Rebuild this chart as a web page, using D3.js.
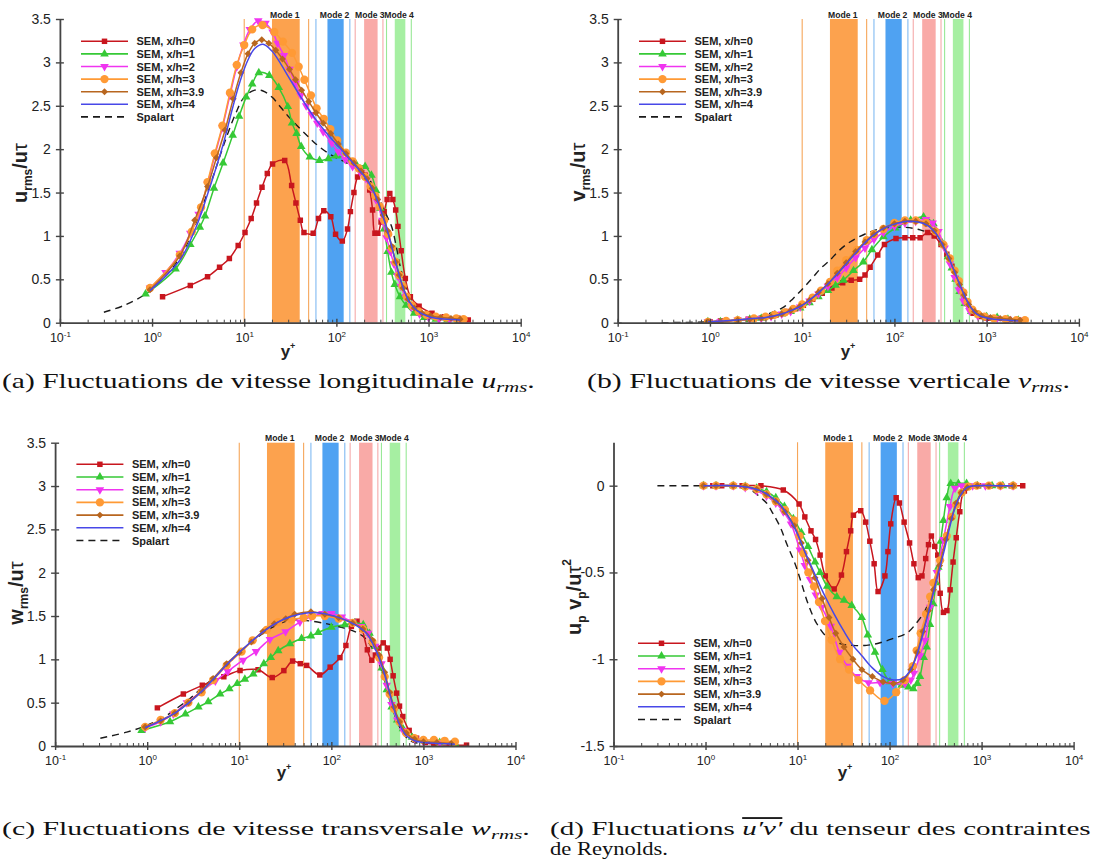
<!DOCTYPE html>
<html><head><meta charset="utf-8">
<script src="https://cdn.jsdelivr.net/npm/d3@7"></script>
<style>
body{margin:0;background:#fff;}
svg{display:block;font-family:"Liberation Sans",Arial,sans-serif;}
</style></head><body>
<svg id="fig" width="1094" height="860"></svg>
<script>
// ---------- shared categories ----------
const seriesLabels = ["SEM, x/h=0","SEM, x/h=1","SEM, x/h=2","SEM, x/h=3","SEM, x/h=3.9","SEM, x/h=4","Spalart"];
const modeNames = ["Mode 1","Mode 2","Mode 3","Mode 4"];
const modeBands = [[20,40],[80,120],[200,280],[430,560]];
const modeLines = [[10,50],[60,140],[160,320],[350,650]];
const xDecades = [0.1,1,10,100,1000,10000];
const xExponents = ["-1","0","1","2","3","4"];
const yTicksRms = [0,0.5,1,1.5,2,2.5,3,3.5];
const yTicksUV = [0,-0.5,-1,-1.5];

// ---------- (a) u_rms / u_tau : [y+, value] ----------
const uRms_xh0 = [[1.3,0.30],[2.6,0.43],[4.0,0.53],[5.4,0.64],[6.9,0.74],[8.6,0.89],[10.2,1.04],[11.9,1.20],[13.6,1.38],[15.6,1.56],[17.8,1.72],[20.3,1.83],[27.5,1.87],[32.7,1.58],[36.4,1.38],[40.6,1.18],[44.5,1.04],[56,1.03],[64,1.20],[73,1.29],[87,1.22],[98,1.02],[116,0.94],[132,1.08],[142,1.28],[155,1.50],[170,1.68],[188,1.73],[205,1.70],[230,1.53],[247,1.30],[262,1.03],[282,1.03],[305,1.16],[330,1.28],[355,1.42],[380,1.49],[410,1.42],[440,1.30],[466,1.11],[505,0.83],[560,0.51],[635,0.30],[790,0.19],[1090,0.11],[1480,0.07],[2080,0.05],[2700,0.03]];
const uRms_xh1 = [[0.85,0.33],[1.8,0.62],[2.6,0.90],[3.3,1.10],[3.75,1.23],[4.7,1.55],[5.9,1.84],[7.5,2.16],[8.8,2.38],[10.5,2.60],[12.2,2.75],[14.4,2.88],[18.7,2.85],[23.7,2.71],[29.7,2.49],[33,2.30],[37,2.18],[41.5,2.03],[51.5,1.91],[65.6,1.87],[82,1.89],[100,1.92],[130,1.88],[165,1.82],[205,1.80],[240,1.70],[270,1.52],[300,1.32],[330,1.08],[360,0.82],[395,0.58],[430,0.44],[490,0.30],[570,0.20],[700,0.11],[900,0.06],[1200,0.04],[1600,0.03],[2100,0.02]];
const uRms_xh2 = [[0.95,0.40],[1.4,0.58],[2.0,0.80],[2.6,1.03],[3.2,1.25],[4.0,1.60],[4.8,1.93],[5.8,2.25],[7.0,2.62],[8.3,2.95],[9.8,3.20],[11.5,3.38],[14.2,3.48],[17,3.45],[20.3,3.35],[23,3.22],[27,3.08],[31,2.92],[36,2.76],[41,2.62],[47,2.50],[54,2.40],[62,2.30],[72,2.20],[89,2.07],[105,1.97],[125,1.88],[150,1.80],[180,1.74],[210,1.66],[240,1.55],[275,1.40],[315,1.18],[350,0.98],[385,0.82],[420,0.68],[460,0.54],[500,0.42],[560,0.30],[650,0.18],[800,0.10],[1000,0.06],[1300,0.04],[1700,0.03],[2200,0.02]];
const uRms_xh3 = [[0.95,0.40],[2.0,0.78],[2.7,1.05],[3.4,1.33],[4.0,1.62],[4.8,1.95],[5.8,2.27],[7.0,2.65],[8.3,2.97],[10,3.20],[12.2,3.38],[15.8,3.43],[21.2,3.35],[26.3,3.24],[33,3.11],[39,2.95],[45,2.80],[53,2.62],[61,2.47],[73,2.35],[86,2.23],[102,2.10],[127,1.96],[150,1.86],[175,1.78],[205,1.68],[235,1.57],[265,1.46],[295,1.34],[330,1.18],[365,1.02],[400,0.86],[440,0.70],[480,0.55],[525,0.42],[580,0.30],[660,0.20],[780,0.13],[950,0.09],[1200,0.07],[1550,0.06],[2000,0.05],[2400,0.04]];
const uRms_xh39 = [[0.95,0.38],[2.0,0.77],[2.9,1.18],[4.0,1.57],[5.0,1.90],[6.2,2.22],[7.6,2.58],[9.2,2.88],[11,3.10],[13,3.22],[15.5,3.26],[18.5,3.22],[22,3.14],[26,3.04],[31,2.92],[36,2.80],[42,2.68],[50,2.55],[60,2.42],[72,2.30],[87,2.18],[105,2.06],[127,1.95],[155,1.84],[185,1.75],[215,1.66],[245,1.55],[280,1.42],[320,1.24],[360,1.06],[400,0.88],[440,0.70],[480,0.55],[530,0.40],[600,0.27],[700,0.17],[850,0.11],[1050,0.08],[1350,0.06],[1750,0.05],[2200,0.04]];
const uRms_xh4 = [[0.95,0.37],[2,0.72],[3,1.10],[4,1.48],[5,1.80],[6,2.08],[7.5,2.48],[9,2.78],[11,3.03],[13,3.16],[16,3.21],[20,3.13],[25,2.98],[30,2.84],[40,2.62],[50,2.46],[60,2.34],[75,2.21],[90,2.11],[110,2.01],[140,1.88],[170,1.78],[200,1.69],[240,1.56],[280,1.40],[330,1.18],[380,0.96],[430,0.74],[480,0.55],[540,0.38],[620,0.24],[750,0.14],[950,0.08],[1200,0.05],[1600,0.04],[2200,0.03]];
const uRms_spalart = [[0.3,0.12],[0.5,0.20],[0.85,0.33],[1.3,0.50],[2,0.75],[3,1.15],[4,1.50],[5,1.80],[6,2.05],[8,2.40],[10,2.60],[13,2.68],[16,2.67],[20,2.60],[25,2.48],[30,2.38],[40,2.24],[50,2.14],[60,2.06],[80,1.96],[100,1.90],[130,1.84],[170,1.77],[210,1.70],[250,1.58],[300,1.40],[350,1.24],[400,1.10],[450,0.86],[500,0.62],[600,0.35],[700,0.22],[850,0.12],[1000,0.08]];

// ---------- (b) v_rms / u_tau ----------
const vRms_xh0 = [[1.0,0.01],[1.3,0.02],[2.0,0.03],[2.6,0.04],[4.0,0.07],[5.2,0.09],[6.8,0.13],[8.5,0.16],[10.3,0.20],[13,0.27],[16.5,0.34],[21,0.40],[27.5,0.46],[34,0.49],[42,0.50],[48,0.55],[54.5,0.64],[66,0.78],[78,0.90],[104,0.97],[130,0.98],[158,0.98],[190,0.98],[230,1.04],[270,1.00],[320,0.90],[370,0.79],[420,0.65],[470,0.50],[522,0.38],[600,0.22],[712,0.11],[850,0.07],[1010,0.05],[1640,0.02],[2500,0.01]];
const vRms_xh1 = [[0.95,0.01],[1.3,0.01],[2,0.03],[2.7,0.04],[3.6,0.05],[4.6,0.07],[6,0.10],[7.5,0.13],[9.5,0.17],[12,0.23],[15,0.30],[19,0.37],[23,0.43],[28,0.49],[36,0.60],[46,0.70],[57,0.84],[76,0.99],[102,1.09],[150,1.18],[207,1.22],[265,1.14],[330,0.92],[380,0.76],[419,0.63],[460,0.50],[510,0.36],[580,0.22],[680,0.13],[820,0.09],[1000,0.07],[1300,0.06],[1700,0.04],[2200,0.03]];
const vRms_xh2 = [[0.95,0.01],[1.3,0.01],[2,0.03],[2.7,0.04],[3.6,0.05],[4.6,0.07],[6,0.10],[7.5,0.13],[9.5,0.18],[12,0.25],[15,0.33],[19,0.42],[24,0.52],[30,0.63],[38,0.75],[48,0.86],[60,0.96],[76,1.04],[100,1.11],[130,1.15],[170,1.17],[220,1.19],[260,1.15],[300,1.05],[350,0.86],[400,0.68],[450,0.52],[500,0.38],[560,0.25],[650,0.14],[800,0.08],[1000,0.06],[1300,0.05],[1700,0.04],[2200,0.03]];
const vRms_xh3 = [[0.95,0.01],[1.5,0.02],[2,0.03],[3,0.05],[4,0.07],[5,0.09],[6.5,0.12],[8,0.16],[10,0.21],[13,0.29],[16,0.37],[20,0.47],[24,0.60],[30,0.72],[39,0.84],[50,0.95],[60,1.02],[76,1.08],[100,1.15],[130,1.18],[170,1.18],[220,1.15],[280,1.05],[340,0.90],[400,0.74],[450,0.60],[500,0.48],[560,0.35],[620,0.24],[700,0.15],[800,0.10],[950,0.07],[1200,0.05],[1600,0.04],[2100,0.03],[2600,0.03]];
const vRms_xh39 = [[0.95,0.01],[1.3,0.01],[2,0.03],[2.7,0.04],[3.6,0.05],[4.6,0.07],[6,0.10],[7.5,0.14],[9.5,0.19],[12,0.26],[15,0.35],[19,0.45],[24,0.57],[30,0.69],[38,0.82],[48,0.93],[60,1.02],[76,1.09],[100,1.14],[130,1.17],[170,1.17],[220,1.14],[270,1.06],[330,0.90],[390,0.74],[450,0.58],[510,0.44],[570,0.32],[640,0.21],[740,0.13],[880,0.08],[1100,0.06],[1400,0.05],[1800,0.04],[2300,0.03]];
const vRms_xh4 = [[0.95,0.01],[2,0.03],[3,0.05],[4,0.06],[6,0.10],[8,0.15],[10,0.20],[13,0.29],[16,0.37],[20,0.47],[25,0.58],[32,0.71],[40,0.83],[50,0.94],[65,1.04],[85,1.11],[110,1.15],[140,1.17],[180,1.16],[230,1.12],[280,1.03],[340,0.88],[400,0.72],[460,0.56],[520,0.42],[590,0.29],[670,0.18],[780,0.10],[950,0.06],[1200,0.04],[1600,0.03],[2200,0.02]];
const vRms_spalart = [[0.3,0.0],[1,0.01],[2,0.03],[3,0.06],[4,0.09],[5,0.13],[6.3,0.18],[8,0.28],[10.3,0.40],[13,0.52],[16,0.63],[20,0.72],[25,0.83],[33,0.93],[50,1.03],[76,1.09],[126,1.10],[190,1.07],[250,1.02],[300,0.95],[350,0.85],[400,0.72],[450,0.58],[500,0.45],[560,0.32],[650,0.18],[750,0.10],[900,0.05],[1000,0.04]];

// ---------- (c) w_rms / u_tau ----------
const wRms_xh0 = [[1.29,0.44],[2.47,0.60],[3.97,0.70],[6.8,0.80],[10.2,0.87],[16,0.88],[22.8,0.79],[30.5,0.87],[38,0.98],[46,0.95],[54,0.93],[75,0.82],[97,0.91],[124,1.02],[144,1.16],[165,1.38],[190,1.44],[215,1.35],[246,1.11],[275,0.99],[300,1.05],[327,1.13],[366,1.19],[406,1.13],[435,1.00],[469,0.81],[512,0.61],[550,0.46],[597,0.34],[700,0.18],[843,0.09],[1050,0.04],[1297,0.02],[1910,0.01],[2940,0.01]];
const wRms_xh1 = [[0.87,0.18],[1.77,0.28],[2.6,0.37],[3.6,0.45],[4.6,0.51],[6.2,0.60],[7.8,0.66],[9.5,0.72],[11.5,0.77],[14.2,0.83],[18.5,0.95],[22,1.02],[26.5,1.10],[35.5,1.18],[47.5,1.24],[60,1.27],[72,1.31],[100,1.37],[140,1.40],[180,1.42],[222,1.40],[260,1.30],[298,1.15],[352,0.90],[400,0.65],[452,0.45],[520,0.30],[600,0.20],[750,0.10],[1000,0.06],[1500,0.04],[2200,0.03]];
const wRms_xh2 = [[0.95,0.21],[1.4,0.28],[1.92,0.37],[2.7,0.50],[3.9,0.63],[5.5,0.75],[7.5,0.86],[11,0.99],[15.2,1.09],[21.5,1.23],[31.8,1.32],[45.6,1.43],[60,1.49],[80,1.53],[100,1.53],[130,1.49],[170,1.43],[210,1.38],[250,1.30],[300,1.15],[350,0.95],[400,0.70],[450,0.48],[520,0.30],[600,0.18],[800,0.08],[1000,0.05],[1500,0.04],[2000,0.03]];
const wRms_xh3 = [[0.95,0.22],[1.4,0.30],[2,0.38],[2.8,0.50],[3.9,0.62],[5.2,0.76],[7.3,0.93],[10.6,1.09],[14,1.22],[19.8,1.34],[26.5,1.43],[37,1.46],[50,1.48],[62,1.50],[85,1.50],[120,1.47],[170,1.42],[220,1.35],[280,1.20],[330,1.02],[380,0.80],[430,0.60],[480,0.43],[550,0.28],[650,0.15],[800,0.09],[1000,0.07],[1300,0.07],[1700,0.06],[2200,0.05]];
const wRms_xh39 = [[0.95,0.22],[1.4,0.29],[2,0.38],[2.8,0.50],[3.9,0.64],[5.2,0.78],[7.3,0.95],[10,1.08],[13.5,1.20],[18,1.32],[24,1.41],[32,1.47],[40,1.52],[60,1.55],[85,1.52],[120,1.48],[170,1.42],[220,1.35],[280,1.22],[330,1.05],[380,0.85],[430,0.62],[480,0.45],[550,0.28],[650,0.15],[800,0.08],[1000,0.05],[1400,0.04],[2000,0.03]];
const wRms_xh4 = [[0.95,0.21],[2,0.38],[3,0.52],[4,0.64],[6,0.84],[8,0.98],[10,1.08],[14,1.22],[20,1.35],[30,1.46],[45,1.52],[65,1.54],[90,1.52],[130,1.47],[180,1.40],[240,1.30],[300,1.12],[360,0.90],[420,0.65],[480,0.42],[550,0.25],[650,0.12],[800,0.06],[1000,0.04],[1500,0.03],[2200,0.02]];
const wRms_spalart = [[0.31,0.09],[0.6,0.16],[1,0.24],[1.5,0.33],[2,0.42],[3,0.56],[4,0.68],[5.5,0.80],[7.3,0.93],[10,1.08],[13.6,1.20],[18,1.30],[25,1.39],[35,1.45],[50,1.45],[80,1.42],[138,1.36],[180,1.32],[230,1.25],[280,1.12],[330,0.95],[380,0.75],[430,0.55],[480,0.38],[540,0.24],[620,0.13],[700,0.07],[800,0.04],[900,0.03]];

// ---------- (d) u'v' / u_tau^2 ----------
const uv_xh0 = [[0.95,0],[1.2,0],[1.5,0],[2.0,0],[2.5,0],[4.0,0],[7.0,-0.025],[10.4,-0.106],[12,-0.18],[14,-0.26],[15.7,-0.31],[17.6,-0.40],[20,-0.52],[25,-0.595],[30,-0.515],[34,-0.38],[37.8,-0.26],[40.5,-0.17],[48.6,-0.144],[55,-0.21],[61,-0.32],[68,-0.45],[75,-0.61],[89,-0.52],[96,-0.38],[103,-0.22],[118,-0.07],[128,-0.10],[144,-0.21],[165,-0.33],[184,-0.45],[205,-0.53],[225,-0.52],[247,-0.42],[265,-0.34],[285,-0.29],[310,-0.35],[334,-0.40],[355,-0.62],[385,-0.73],[420,-0.72],[455,-0.60],[490,-0.44],[530,-0.30],[580,-0.15],[650,-0.03],[925,0],[1240,0],[1600,0],[2100,0],[2800,0]];
const uv_xh1 = [[0.95,0],[1.3,0],[2,0],[2.7,-0.005],[3.6,-0.015],[4.6,-0.035],[5.8,-0.07],[7.2,-0.12],[9,-0.19],[11,-0.27],[13,-0.35],[15.5,-0.44],[17.6,-0.50],[21,-0.58],[26.7,-0.64],[32,-0.66],[38.8,-0.69],[49.8,-0.76],[58,-0.86],[69.5,-0.96],[83.6,-1.06],[101,-1.13],[135,-1.15],[160,-1.16],[181,-1.17],[200,-1.14],[214,-1.10],[235,-0.99],[253,-0.93],[275,-0.80],[299,-0.68],[320,-0.56],[339,-0.47],[360,-0.32],[385,-0.20],[418,-0.07],[462,0.013],[560,0.013],[687,0.013],[900,0],[1300,0],[1700,0],[2200,0]];
const uv_xh2 = [[0.95,0],[1.3,0],[2,0],[2.7,-0.01],[3.6,-0.03],[4.6,-0.06],[5.8,-0.10],[7,-0.15],[8.5,-0.22],[10.6,-0.37],[12,-0.46],[13.7,-0.54],[15.8,-0.63],[18.3,-0.70],[23,-0.81],[28.5,-0.96],[34.8,-1.04],[44,-1.10],[59,-1.135],[79,-1.135],[108,-1.14],[147,-1.14],[170,-1.12],[184,-1.08],[214,-0.98],[243,-0.89],[276,-0.70],[326,-0.50],[385,-0.31],[454,-0.12],[515,-0.015],[608,0],[800,0],[1100,0],[1600,0],[2200,0]];
const uv_xh3 = [[0.95,0],[1.3,0],[2,0],[2.7,-0.005],[3.6,-0.02],[4.6,-0.05],[5.8,-0.09],[7.3,-0.14],[9.2,-0.20],[10.5,-0.29],[11.6,-0.39],[13.1,-0.50],[15.1,-0.58],[17.1,-0.67],[19.9,-0.78],[23.5,-0.89],[29,-1.00],[36.3,-1.06],[45.8,-1.12],[61.4,-1.18],[88,-1.24],[118,-1.19],[147,-1.12],[179,-1.04],[197,-0.95],[218,-0.85],[249,-0.74],[276,-0.64],[299,-0.56],[354,-0.43],[418,-0.29],[474,-0.18],[528,-0.11],[608,-0.04],[719,-0.005],[885,0],[1200,0],[1600,0],[2200,0]];
const uv_xh39 = [[0.95,0],[1.3,0],[2,0],[2.7,-0.005],[3.6,-0.02],[4.6,-0.05],[5.8,-0.09],[7.3,-0.15],[9.2,-0.23],[11,-0.33],[13,-0.43],[15.5,-0.53],[18.5,-0.65],[22,-0.76],[26,-0.85],[32,-0.93],[40,-1.00],[50,-1.06],[65,-1.10],[85,-1.13],[110,-1.14],[140,-1.12],[170,-1.06],[200,-0.96],[230,-0.84],[265,-0.72],[300,-0.60],[350,-0.46],[410,-0.31],[470,-0.19],[530,-0.10],[600,-0.04],[700,-0.01],[900,0],[1200,0],[1600,0],[2200,0]];
const uv_xh4 = [[0.95,0],[2,0],[3,-0.01],[4,-0.03],[5,-0.06],[6.5,-0.11],[8,-0.18],[10,-0.28],[12,-0.38],[14,-0.46],[17,-0.56],[20,-0.64],[25,-0.74],[32,-0.84],[40,-0.92],[50,-0.98],[65,-1.05],[85,-1.10],[110,-1.12],[140,-1.11],[170,-1.06],[200,-0.97],[240,-0.82],[280,-0.68],[330,-0.53],[390,-0.38],[450,-0.24],[520,-0.12],[600,-0.05],[700,-0.01],[900,0],[1500,0],[2200,0]];
const uv_spalart = [[0.3,0],[0.6,0],[1,0],[1.5,0],[2,-0.005],[2.6,-0.015],[3.2,-0.03],[4,-0.07],[4.6,-0.10],[5.4,-0.16],[6.5,-0.24],[7.7,-0.34],[9.4,-0.45],[11,-0.56],[13,-0.68],[16,-0.79],[20.7,-0.87],[29,-0.91],[40,-0.92],[56,-0.92],[79,-0.905],[110,-0.88],[154,-0.85],[197,-0.79],[243,-0.72],[276,-0.64],[326,-0.50],[385,-0.35],[454,-0.22],[537,-0.10],[634,-0.025],[750,0],[1000,0]];

// ---------- styles ----------
const seriesColors = ["#c8161e","#36c936","#f034f0","#ff9a35","#b8661f","#4848e8","#1a1a1a"];
const seriesMarkers = ["square","triangle","triangleDown","circle","diamond",null,null];
const bandColors = ["#fca24e","#4fa2f2","#f9aaa7","#a6efa2"];
const thinLineColors = ["#f6a65a","#80baf2","#f5aaaa","#98e897"];
const serifFont = "'Liberation Serif','Tinos','Times New Roman',serif";

const svg = d3.select("#fig");
const ink = "#222";

function markerPath(kind) {
  if (kind === "square") return d3.symbol().type(d3.symbolSquare).size(30)();
  if (kind === "triangle" || kind === "triangleDown") return d3.symbol().type(d3.symbolTriangle).size(32)();
  if (kind === "circle") return d3.symbol().type(d3.symbolCircle).size(54)();
  if (kind === "diamond") return d3.symbol().type(d3.symbolSquare).size(24)();
  return null;
}
function markerRot(kind) {
  if (kind === "triangleDown") return 180;
  if (kind === "diamond") return 45;
  return 0;
}

const panels = [
  { id:"a", series:[uRms_xh0,uRms_xh1,uRms_xh2,uRms_xh3,uRms_xh39,uRms_xh4,uRms_spalart],
    xRange:[59.9,520.7], yRange:[322.7,19], yDomain:[0,3.5], yTicks:yTicksRms,
    legend:{x:81, y:41.3, dy:12.6}, yLab:{x:27, y:173, kind:"u"}, xLab:{x:288, y:357} },
  { id:"b", series:[vRms_xh0,vRms_xh1,vRms_xh2,vRms_xh3,vRms_xh39,vRms_xh4,vRms_spalart],
    xRange:[617.7,1078.9], yRange:[322.7,19], yDomain:[0,3.5], yTicks:yTicksRms,
    legend:{x:639, y:41.3, dy:12.6}, yLab:{x:585, y:172, kind:"v"}, xLab:{x:848, y:357} },
  { id:"c", series:[wRms_xh0,wRms_xh1,wRms_xh2,wRms_xh3,wRms_xh39,wRms_xh4,wRms_spalart],
    xRange:[55.1,515.5], yRange:[746,442.7], yDomain:[0,3.5], yTicks:yTicksRms,
    legend:{x:76.4, y:464.3, dy:12.7}, yLab:{x:23, y:593, kind:"w"}, xLab:{x:284, y:778} },
  { id:"d", series:[uv_xh0,uv_xh1,uv_xh2,uv_xh3,uv_xh39,uv_xh4,uv_spalart],
    xRange:[613.5,1073.6], yRange:[746,442.3], yDomain:[-1.5,0.25], yTicks:yTicksUV,
    legend:{x:638, y:643.3, dy:12.7}, yLab:{x:581, y:597, kind:"uv"}, xLab:{x:845, y:778} }
];

function drawPanel(p) {
  const g = svg.append("g").attr("class","panel-"+p.id);
  const x = d3.scaleLog().domain([0.1,10000]).range(p.xRange);
  const y = d3.scaleLinear().domain(p.yDomain).range(p.yRange);
  const top = p.yRange[1], bot = p.yRange[0];

  // mode bands and their bounding lines
  modeBands.forEach((b,i) => {
    g.append("rect").attr("x",x(b[0])).attr("y",top)
      .attr("width",x(b[1])-x(b[0])).attr("height",bot-top).attr("fill",bandColors[i]);
    modeLines[i].forEach(v => {
      g.append("line").attr("x1",x(v)).attr("x2",x(v)).attr("y1",top).attr("y2",bot)
        .attr("stroke",thinLineColors[i]).attr("stroke-width",1.1);
    });
    g.append("text").attr("x",x(Math.sqrt(b[0]*b[1]))-1).attr("y",top-1.5)
      .attr("text-anchor","middle").attr("font-size",8.6).attr("font-weight","bold")
      .attr("fill",ink).text(modeNames[i]);
  });

  // curves
  const clipId = "clip-"+p.id;
  g.append("clipPath").attr("id",clipId).append("rect")
    .attr("x",p.xRange[0]).attr("y",top-6).attr("width",p.xRange[1]-p.xRange[0]).attr("height",bot-top+6);
  const plot = g.append("g").attr("clip-path","url(#"+clipId+")");
  const line = d3.line().x(d => x(d[0])).y(d => y(d[1])).curve(d3.curveCatmullRom.alpha(0.5));
  const order = [6,0,1,2,3,4,5];
  order.forEach(si => {
    const data = p.series[si];
    plot.append("path").attr("d",line(data)).attr("fill","none")
      .attr("stroke",seriesColors[si]).attr("stroke-width",si===6?1.4:1.5)
      .attr("stroke-dasharray",si===6?"7,5":null);
    const mk = seriesMarkers[si];
    if (mk) {
      plot.selectAll(null).data(data).enter().append("path")
        .attr("d",markerPath(mk))
        .attr("transform",d => `translate(${x(d[0])},${y(d[1])}) rotate(${markerRot(mk)})`)
        .attr("fill",seriesColors[si]);
    }
  });

  // x axis: decades with crossing ticks, minor ticks pointing up
  const minor = [];
  xDecades.slice(0,-1).forEach(d => { for (let k=2;k<10;k++) minor.push(d*k); });
  const xMinor = g.append("g").attr("transform",`translate(0,${bot})`)
    .call(d3.axisBottom(x).tickValues(minor).tickSizeInner(-3).tickSizeOuter(0).tickFormat(""));
  xMinor.select(".domain").remove();
  xMinor.selectAll("line").attr("stroke","#444");
  const xAx = g.append("g").attr("transform",`translate(0,${bot})`)
    .call(d3.axisBottom(x).tickValues(xDecades).tickSizeInner(4).tickSizeOuter(0).tickPadding(6));
  xAx.select(".domain").attr("stroke","#444").attr("stroke-width",1.8);
  xAx.selectAll(".tick line").attr("y1",-4).attr("y2",4).attr("stroke","#444").attr("stroke-width",1.4);
  xAx.selectAll(".tick text").each(function(d,i){
    const t = d3.select(this).text("").attr("font-size",12.5).attr("fill",ink)
      .attr("font-family","'Liberation Sans Narrow','Liberation Sans',Arial,sans-serif");
    t.append("tspan").text("10");
    t.append("tspan").attr("font-size",8).attr("dy",-5).text(xExponents[i]);
  });

  // y axis
  const yAx = g.append("g").attr("transform",`translate(${p.xRange[0]},0)`)
    .call(d3.axisLeft(y).tickValues(p.yTicks).tickSizeInner(4).tickSizeOuter(0).tickPadding(5)
      .tickFormat(d => String(d)));
  yAx.select(".domain").attr("stroke","#444").attr("stroke-width",1.8);
  yAx.selectAll(".tick line").attr("x1",-4).attr("x2",4).attr("stroke","#444").attr("stroke-width",1.4);
  yAx.selectAll(".tick text").attr("font-size",14).attr("fill",ink)
    .attr("font-family","'Liberation Sans',Arial,sans-serif");

  // legend
  const L = p.legend;
  seriesLabels.forEach((name,si) => {
    const ly = L.y + si*L.dy;
    g.append("line").attr("x1",L.x).attr("x2",L.x+47).attr("y1",ly).attr("y2",ly)
      .attr("stroke",seriesColors[si]).attr("stroke-width",1.6)
      .attr("stroke-dasharray",si===6?"7,5":null);
    const mk = seriesMarkers[si];
    if (mk) g.append("path").attr("d",markerPath(mk))
      .attr("transform",`translate(${L.x+23.5},${ly}) rotate(${markerRot(mk)})`).attr("fill",seriesColors[si]);
    g.append("text").attr("x",L.x+55.5).attr("y",ly+4).attr("font-size",11).attr("font-weight","bold")
      .attr("fill",ink).text(name);
  });

  // axis titles
  const xl = g.append("text").attr("x",p.xLab.x).attr("y",p.xLab.y).attr("text-anchor","middle")
    .attr("font-weight","bold").attr("fill",ink);
  xl.append("tspan").attr("font-size",17).text("y");
  xl.append("tspan").attr("font-size",9).attr("dy",-8).text("+");

  const yl = g.append("text").attr("transform",`translate(${p.yLab.x},${p.yLab.y}) rotate(-90)`)
    .attr("text-anchor","middle").attr("font-weight","bold").attr("fill",ink);
  if (p.yLab.kind === "uv") {
    yl.append("tspan").attr("font-size",20).text("u");
    yl.append("tspan").attr("font-size",12).attr("dy",5).text("p");
    yl.append("tspan").attr("font-size",20).attr("dy",-5).text(" v");
    yl.append("tspan").attr("font-size",12).attr("dy",5).text("p");
    yl.append("tspan").attr("font-size",20).attr("dy",-5).text("/u");
    yl.append("tspan").attr("font-size",20).attr("font-weight","normal").text("τ");
    yl.append("tspan").attr("font-size",12).attr("dy",-10).text("2");
  } else {
    yl.append("tspan").attr("font-size",20).text(p.yLab.kind);
    yl.append("tspan").attr("font-size",12).attr("dy",5).text("rms");
    yl.append("tspan").attr("font-size",20).attr("dy",-5).text("/u");
    yl.append("tspan").attr("font-size",20).attr("font-weight","normal").text("τ");
  }
}
panels.forEach(drawPanel);

// ---------- captions (serif, with math parts) ----------
const captionA = [["(a) Fluctuations de vitesse longitudinale ",""],["u","i"],["rms","is"],[".",""]];
const captionB = [["(b) Fluctuations de vitesse verticale ",""],["v","i"],["rms","is"],[".",""]];
const captionC = [["(c) Fluctuations de vitesse transversale ",""],["w","i"],["rms","is"],[".",""]];
const captionD = [["(d) Fluctuations ",""],["u′v′","io"],[" du tenseur des contraintes",""]];
const captionD2 = [["de Reynolds.",""]];

function caption(parts, x0, base, width, size) {
  const g = svg.append("g");
  const t = g.append("text").attr("x",0).attr("y",0).attr("font-size",size)
    .attr("font-family",serifFont).attr("fill","#111");
  let shifted = false;
  parts.forEach(([s,st]) => {
    const ts = t.append("tspan").text(s);
    if (st.includes("i")) ts.attr("font-style","italic");
    if (st.includes("s")) { ts.attr("font-size",size*0.7).attr("dy",4); shifted = true; }
    else if (shifted) { ts.attr("dy",-4); shifted = false; }
    if (st.includes("o")) ts.style("text-decoration","overline");
  });
  const w = t.node().getComputedTextLength();
  g.attr("transform",`translate(${x0},${base}) scale(${width / w},1)`);
}
caption(captionA, 2, 388, 533, 21);
caption(captionB, 587, 388, 483, 21);
caption(captionC, 2, 835, 528, 18);
caption(captionD, 550, 835, 541, 18);
caption(captionD2, 550, 855, 118, 18);
</script>
</body></html>
